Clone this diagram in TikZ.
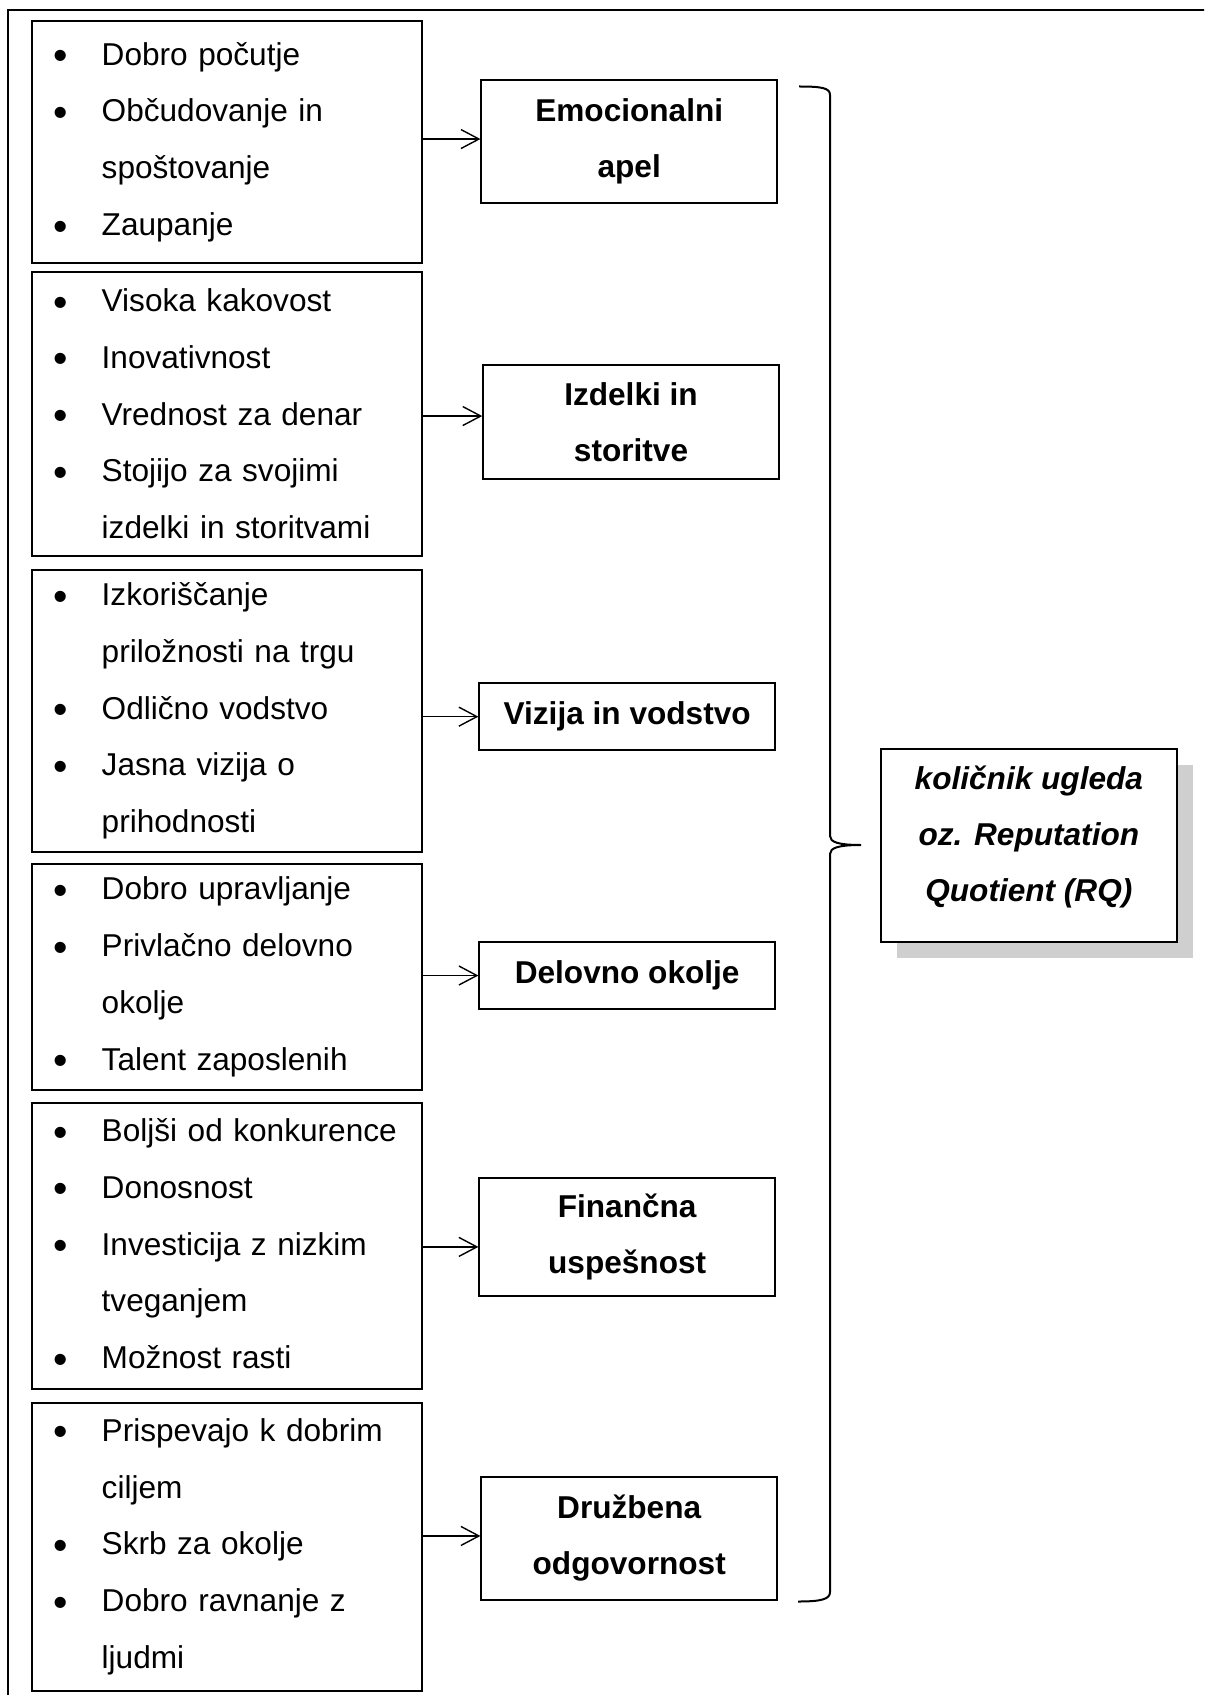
\documentclass[tikz,border=0pt]{standalone}
\usepackage{fontspec}
\usepackage{graphicx}
\setmainfont{Liberation Sans}
\usetikzlibrary{arrows.meta,shadows}

% bullet item and continuation line inside the left boxes
\newcommand\bulletmark{\raisebox{-2.3pt}{\scalebox{1.3}{•}}}
\newcommand\itm[1]{\makebox[34.85pt][l]{\hspace{11pt}\bulletmark}#1}
\newcommand\cnt[1]{\makebox[34.85pt]{}#1}

\tikzset{
  lbox/.style={draw, line width=1pt, text width=194.85pt, inner xsep=0pt,
    inner ysep=0pt, align=left, font=\fontsize{15.8pt}{28.4pt}\selectfont},
  rbox/.style={draw, line width=1pt, minimum width=147.75pt, inner sep=0pt,
    align=center, font=\bfseries\fontsize{15.8pt}{28pt}\selectfont},
  link/.style={-{Straight Barb[length=9pt,width=9.5pt]}, line width=0.7pt},
}

\begin{document}
\begin{tikzpicture}[x=0.5pt, y=-0.5pt]
  \clip (0,0) rectangle (1204,1695);
  \fill[white] (0,0) rectangle (1204,1695);
  % outer frame, running past the right and bottom edges
  \draw[line width=1pt] (8,10) rectangle (1300,1800);

  % left boxes with the lists of attributes
  \node[lbox, minimum height=121pt] (l1) at (226.85,142)
    {\itm{Dobro počutje}\\\itm{Občudovanje in}\\\cnt{spoštovanje}\\\itm{Zaupanje}};
  \node[lbox, minimum height=142.15pt] (l2) at (226.85,413.85)
    {\itm{Visoka kakovost}\\\itm{Inovativnost}\\\itm{Vrednost za denar}\\\itm{Stojijo za svojimi}\\\cnt{izdelki in storitvami}};
  \node[lbox, minimum height=140.85pt] (l3) at (226.85,710.85)
    {\itm{Izkoriščanje}\\\cnt{priložnosti na trgu}\\\itm{Odlično vodstvo}\\\itm{Jasna vizija o}\\\cnt{prihodnosti}};
  \node[lbox, minimum height=113pt] (l4) at (226.85,977)
    {\itm{Dobro upravljanje}\\\itm{Privlačno delovno}\\\cnt{okolje}\\\itm{Talent zaposlenih}};
  \node[lbox, minimum height=143.15pt] (l5) at (226.85,1245.85)
    {\itm{Boljši od konkurence}\\\itm{Donosnost}\\\itm{Investicija z nizkim}\\\cnt{tveganjem}\\\itm{Možnost rasti}};
  \node[lbox, minimum height=144pt] (l6) at (226.85,1546.7)
    {\itm{Prispevajo k dobrim}\\\cnt{ciljem}\\\itm{Skrb za okolje}\\\itm{Dobro ravnanje z}\\\cnt{ljudmi}};

  % right boxes with the dimensions
  \node[rbox, minimum height=61.65pt] (r1) at (629.2,141.65) {Emocionalni\\apel};
  \node[rbox, minimum height=56.85pt] (r2) at (631,421.85) {Izdelki in\\storitve};
  \node[rbox, minimum height=33.35pt] (r3) at (627.15,716.65) {Vizija in vodstvo};
  \node[rbox, minimum height=33.2pt] (r4) at (627.15,975.5) {Delovno okolje};
  \node[rbox, minimum height=59pt] (r5) at (627.15,1236.7) {Finančna\\uspešnost};
  \node[rbox, minimum height=61.65pt] (r6) at (629.2,1538.35) {Družbena\\odgovornost};

  % arrows from the lists to the dimensions
  \coordinate (a1) at ([yshift=1.3pt]r1.west);
  \coordinate (a2) at ([yshift=2.9pt]r2.west);
  \coordinate (a3) at (r3.west);
  \coordinate (a4) at (r4.west);
  \coordinate (a5) at ([yshift=-5.1pt]r5.west);
  \coordinate (a6) at ([yshift=1.2pt]r6.west);
  \foreach \i in {1,...,6}
    \draw[link] (a\i -| l\i.east) -- (a\i);

  % brace gathering the six dimensions
  \draw[line width=1pt]
    (799,86.5) .. controls (822,86.5) and (830,88) .. (830,95)
    -- (830,836) .. controls (830,842) and (838,845) .. (861,845)
    .. controls (838,845) and (830,848) .. (830,854)
    -- (830,1592) .. controls (830,1599) and (822,1601.5) .. (798,1601.5);

  % reputation quotient box with its shadow
  \node[draw, line width=1pt, minimum width=147.85pt, minimum height=96.2pt,
    fill=white, drop shadow={shadow xshift=8pt, shadow yshift=-8pt,
    fill=gray!38, opacity=1}] (rq) at (1028.85,845.5) {};
  \node[align=center, inner sep=0pt,
    font=\bfseries\itshape\fontsize{15.8pt}{28pt}\selectfont] (rqt) at (1028.85,837)
    {količnik ugleda\\oz. Reputation\\Quotient (RQ)};
\end{tikzpicture}
\end{document}
